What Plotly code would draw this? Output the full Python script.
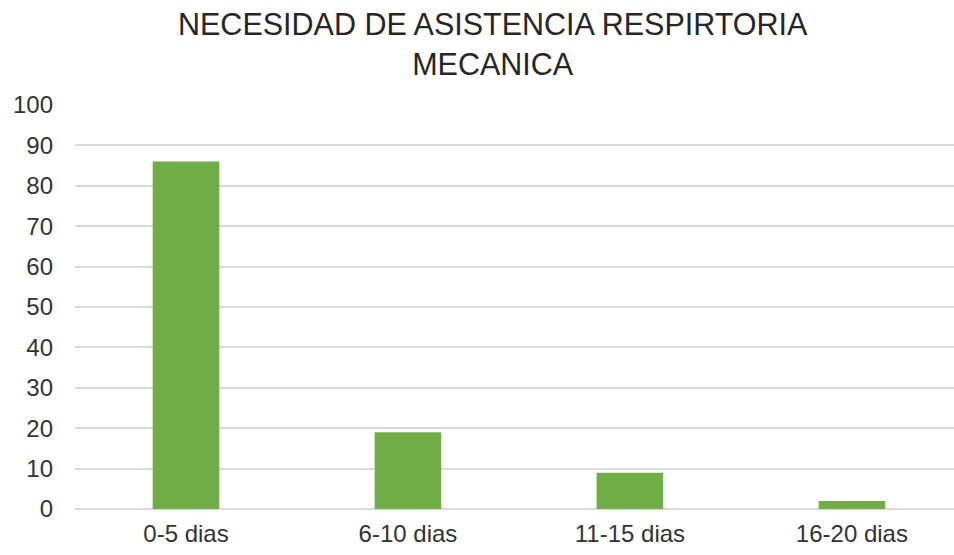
import plotly.graph_objects as go

categories = ["0-5 dias", "6-10 dias", "11-15 dias", "16-20 dias"]
values = [86, 19, 9, 2]
y_ticks = [0, 10, 20, 30, 40, 50, 60, 70, 80, 90, 100]
title_lines = ["NECESIDAD DE ASISTENCIA RESPIRTORIA", "MECANICA"]

fig = go.Figure(
    go.Bar(
        x=categories,
        y=values,
        marker=dict(color="#70AD47", line=dict(width=0)),
        width=0.3,
    )
)

# Two-line chart title placed as a paper annotation
fig.add_annotation(
    text="<br>".join(title_lines),
    xref="paper",
    yref="paper",
    x=0.475,
    y=1.0,
    yshift=100,
    xanchor="center",
    yanchor="top",
    showarrow=False,
    align="center",
    font=dict(size=30.5, color="#262626"),
)

fig.update_layout(
    width=954,
    height=555,
    margin=dict(l=75, r=0, t=105, b=46),
    paper_bgcolor="white",
    plot_bgcolor="white",
    font=dict(family="Liberation Sans, Arial, sans-serif", color="#333333"),
    showlegend=False,
)

fig.update_xaxes(
    range=[-0.5, 3.46],
    showgrid=False,
    showline=False,
    ticks="",
    ticklabelstandoff=8,
    tickfont=dict(size=24, color="#333333"),
)
fig.update_yaxes(
    range=[0, 100],
    tickvals=y_ticks,
    showgrid=True,
    gridcolor="#d9d9d9",
    gridwidth=2,
    zeroline=True,
    zerolinecolor="#d9d9d9",
    zerolinewidth=2,
    showline=False,
    ticks="",
    ticklabelstandoff=21,
    tickfont=dict(size=24, color="#333333"),
)

fig.write_html("out.html")
